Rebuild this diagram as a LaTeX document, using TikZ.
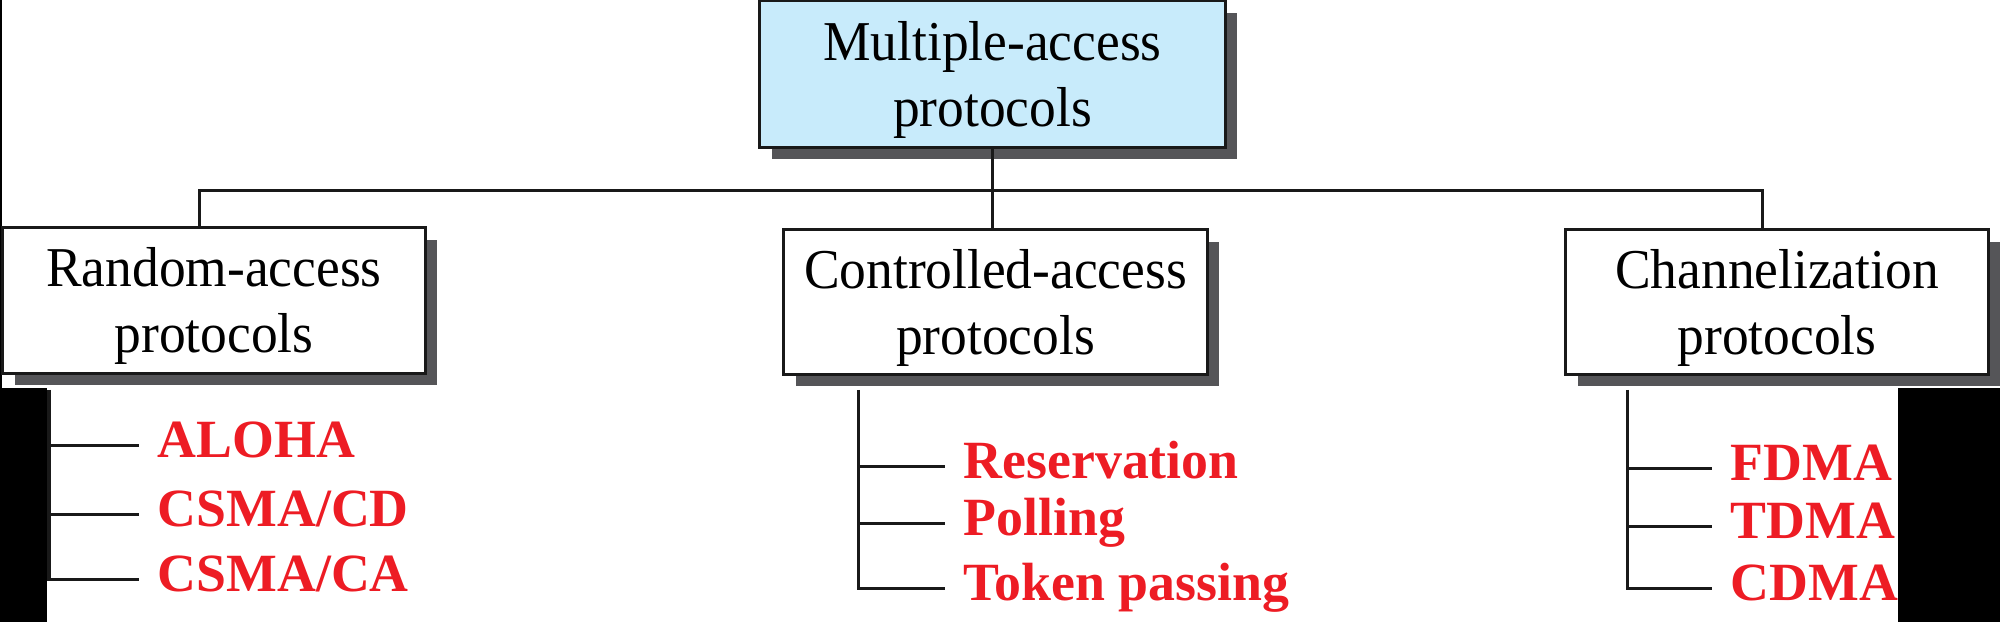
\documentclass[tikz,border=0pt]{standalone}
\usepackage{fontspec}
\setmainfont{Liberation Serif}
\newfontfamily\boxfont[FakeStretch=0.95]{Liberation Serif}
\usetikzlibrary{shadows}
\definecolor{rootblue}{RGB}{200,235,251}
\definecolor{shgray}{RGB}{85,85,88}
\definecolor{itemred}{RGB}{237,28,36}
\newcommand{\btext}[2]{\raisebox{0pt}[\height][\dimexpr\depth-0.12cm\relax]{\begin{tabular}{@{}c@{}}#1\\#2\end{tabular}}}
\tikzset{
  conn/.style={line width=0.03cm, black!90},
  protobox/.style={draw=black!90, line width=0.03cm, fill=white,
    font=\boxfont\fontsize{16}{18.7}\selectfont, inner sep=0pt,
    drop shadow={shadow xshift=0.12cm, shadow yshift=-0.12cm, fill=shgray, opacity=1}},
  item/.style={anchor=west, text=itemred, inner sep=0pt, text height=0.66em, text depth=0pt,
    font=\bfseries\fontsize{15.3}{18}\selectfont},
  tick/.style={conn, shorten >=0.18cm}
}
\begin{document}
\begin{tikzpicture}[x=0.01cm, y=-0.01cm]
\useasboundingbox (0,0) rectangle (2000,622);
% dark background areas of the reference
\fill[black] (0,0) rectangle (2,388);
\fill[black] (0,388) rectangle (47,622);
\fill[black] (1898,388) rectangle (2000,622);

% boxes
\node[protobox, fill=rootblue, minimum width=4.65cm, minimum height=1.46cm] (root) at (992.5,74) {\btext{Multiple-access}{protocols}};
\node[protobox, minimum width=4.22cm, minimum height=1.45cm] (ra) at (214,300.5) {\btext{Random-access}{protocols}};
\node[protobox, minimum width=4.23cm, minimum height=1.44cm] (ca) at (995.5,302) {\btext{Controlled-access}{protocols}};
\node[protobox, minimum width=4.22cm, minimum height=1.44cm] (ch) at (1777,302) {\btext{Channelization}{protocols}};

% tree connectors
\coordinate (busL) at (199,191);
\coordinate (busR) at (1762,191);
\draw[conn] (root.south) -- (root.south |- ca.north);
\draw[conn] (busL |- ra.north) -- (busL) -- (busR) -- (busR |- ch.north);

% items
\node[item] (aloha) at (157,446) {ALOHA};
\node[item] (cd) at (157,515) {CSMA/CD};
\node[item] (cav) at (157,580) {CSMA/CA};
\node[item] (res) at (963,467) {Reservation};
\node[item] (pol) at (963,524) {Polling};
\node[item] (tok) at (963,589) {Token passing};
\node[item] (fd) at (1730,469) {FDMA};
\node[item] (td) at (1730,527) {TDMA};
\node[item] (cdm) at (1730,589) {CDMA};

\coordinate (lt) at (49,390);
\coordinate (mt) at (858,390);
\coordinate (rt) at (1627,390);
\draw[tick] (lt) |- (cav.west);
\draw[tick] (lt |- aloha.west) -- (aloha.west);
\draw[tick] (lt |- cd.west) -- (cd.west);
\draw[tick] (mt) |- (tok.west);
\draw[tick] (mt |- res.west) -- (res.west);
\draw[tick] (mt |- pol.west) -- (pol.west);
\draw[tick] (rt) |- (cdm.west);
\draw[tick] (rt |- fd.west) -- (fd.west);
\draw[tick] (rt |- td.west) -- (td.west);
\end{tikzpicture}
\end{document}
